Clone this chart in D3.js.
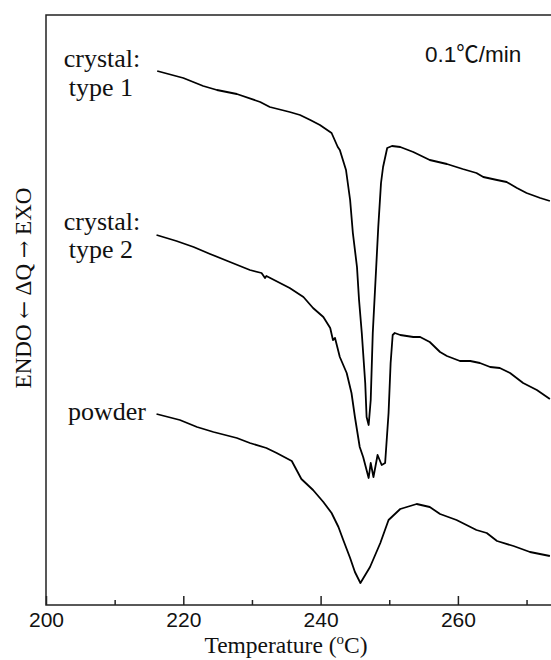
<!DOCTYPE html>
<html>
<head>
<meta charset="utf-8">
<script src="https://cdn.jsdelivr.net/npm/d3@7"></script>
<style>
  body { margin: 0; background: #fff; }
  svg { display: block; }
</style>
</head>
<body>
<div id="chart"></div>
<script>
// DSC traces, temperature (°C) vs heat flow (arbitrary units, curves offset)
const type1Temp = [216.2, 220.0, 222.9, 224.9, 227.8, 231.2, 232.6, 235.5, 237.0, 238.5, 239.9, 241.6, 242.5, 242.8, 243.7, 244.3, 244.7, 245.3, 245.6, 246.0, 246.5, 246.7, 247.0, 247.3, 247.6, 248.1, 248.4, 248.8, 249.1, 249.7, 250.4, 251.6, 253.5, 255.9, 258.4, 260.7, 262.7, 263.7, 265.7, 267.1, 268.6, 270.0, 272.0, 273.4];
const type1Flow = [53.6, 52.9, 52.1, 51.7, 51.3, 50.5, 50.0, 49.5, 49.2, 48.7, 48.2, 47.4, 46.0, 45.7, 43.7, 40.7, 37.4, 34.0, 30.7, 27.4, 22.4, 19.0, 18.2, 20.7, 27.4, 34.0, 38.0, 42.4, 44.0, 45.9, 46.1, 46.0, 45.5, 44.7, 44.3, 43.8, 43.4, 43.0, 42.7, 42.5, 41.9, 41.4, 40.9, 40.6];

const type2Temp = [216.1, 219.0, 221.5, 223.9, 226.8, 229.7, 231.4, 231.9, 232.1, 235.5, 237.5, 238.9, 240.4, 241.4, 241.8, 242.1, 242.8, 243.8, 244.5, 245.0, 245.7, 246.2, 247.0, 247.3, 247.7, 248.3, 248.9, 249.4, 249.9, 250.2, 250.5, 250.8, 251.6, 253.5, 254.5, 255.9, 257.4, 258.4, 260.3, 261.8, 263.2, 264.7, 266.1, 267.6, 269.5, 271.5, 273.4];
const type2Flow = [37.2, 36.6, 36.0, 35.3, 34.5, 33.7, 33.4, 32.9, 33.1, 31.9, 31.0, 29.9, 29.0, 27.9, 26.7, 26.9, 25.0, 23.4, 21.4, 19.0, 16.0, 15.0, 12.9, 14.4, 13.0, 15.2, 14.2, 14.4, 19.4, 24.4, 27.2, 27.4, 27.2, 27.0, 27.0, 26.5, 25.5, 25.1, 24.6, 24.6, 24.4, 24.0, 23.9, 23.4, 22.4, 21.7, 20.8];

const powderTemp = [216.1, 219.5, 222.0, 224.4, 227.8, 229.7, 232.1, 233.6, 235.8, 236.5, 237.2, 238.9, 240.4, 241.6, 242.6, 243.3, 244.3, 245.0, 245.8, 247.2, 248.7, 249.9, 251.6, 254.0, 255.9, 257.4, 259.8, 262.7, 264.2, 265.7, 268.1, 270.5, 273.4];
const powderFlow = [19.3, 18.7, 18.0, 17.5, 16.9, 16.4, 15.9, 15.4, 14.6, 13.7, 12.8, 11.7, 10.5, 9.4, 8.0, 6.7, 4.9, 3.5, 2.4, 4.0, 6.4, 8.7, 9.8, 10.3, 10.0, 9.3, 8.7, 7.7, 7.4, 6.6, 6.1, 5.5, 5.1];

const majorTicks = [200, 220, 240, 260];
const minorTicks = [210, 230, 250, 270];

const W = 551, H = 660;
const x = d3.scaleLinear().domain([200, 280]).range([46, 595.2]);
const y = d3.scaleLinear().domain([0.2, 59.2]).range([605, 15]);

const svg = d3.select("#chart").append("svg")
    .attr("width", W)
    .attr("height", H);

// frame (right side falls outside the picture, as in the original crop)
svg.append("rect")
    .attr("x", x(200)).attr("y", y(59.2))
    .attr("width", x(280) - x(200)).attr("height", y(0.2) - y(59.2))
    .attr("fill", "none")
    .attr("stroke", "#222")
    .attr("stroke-width", 1.5);

const gx = svg.append("g").attr("transform", "translate(0," + y(0.2) + ")");
gx.call(d3.axisBottom(x).tickValues(majorTicks).tickSizeInner(-9).tickSizeOuter(0))
    .call(g => g.select(".domain").remove())
    .call(g => g.selectAll("line").attr("stroke", "#222").attr("stroke-width", 1.5))
    .call(g => g.selectAll("text")
        .attr("font-family", "'Liberation Sans', Arial, sans-serif")
        .attr("font-size", 21)
        .attr("fill", "#111")
        .attr("y", 22)
        .attr("dy", 0));
gx.append("g")
    .call(d3.axisBottom(x).tickValues(minorTicks).tickSizeInner(-5).tickSizeOuter(0).tickFormat(""))
    .call(g => g.select(".domain").remove())
    .call(g => g.selectAll("line").attr("stroke", "#222").attr("stroke-width", 1.5));

const line = d3.line().x(d => x(d[0])).y(d => y(d[1]));
const series = [
    d3.zip(type1Temp, type1Flow),
    d3.zip(type2Temp, type2Flow),
    d3.zip(powderTemp, powderFlow)
];
svg.append("g")
    .selectAll("path")
    .data(series)
    .enter().append("path")
    .attr("d", line)
    .attr("fill", "none")
    .attr("stroke", "#000")
    .attr("stroke-width", 1.8)
    .attr("stroke-linejoin", "round");

const serif = "'Liberation Serif', 'Times New Roman', serif";

// curve labels
const labels = [
    {t: "crystal:", x: 102, y: 67},
    {t: "type 1", x: 101, y: 96},
    {t: "crystal:", x: 102, y: 230},
    {t: "type 2", x: 101, y: 258},
    {t: "powder", x: 107, y: 420}
];
svg.append("g")
    .selectAll("text")
    .data(labels)
    .enter().append("text")
    .attr("x", d => d.x)
    .attr("y", d => d.y)
    .attr("text-anchor", "middle")
    .attr("font-family", serif)
    .attr("font-size", 26)
    .attr("fill", "#111")
    .text(d => d.t);

svg.append("text")
    .attr("x", 425).attr("y", 62)
    .attr("font-family", "'Liberation Sans', Arial, 'Noto Sans CJK SC', sans-serif")
    .attr("font-size", 22.5)
    .attr("fill", "#111")
    .text("0.1℃/min");

// axis titles
const xt = svg.append("text")
    .attr("x", 286).attr("y", 653)
    .attr("text-anchor", "middle")
    .attr("font-family", serif)
    .attr("font-size", 23.5)
    .attr("fill", "#111");
xt.append("tspan").text("Temperature (");
xt.append("tspan").attr("font-size", 15).attr("dy", -9).text("o");
xt.append("tspan").attr("dy", 9).text("C)");

const yt = svg.append("text")
    .attr("transform", "translate(31,288) rotate(-90)")
    .attr("text-anchor", "middle")
    .attr("font-family", serif)
    .attr("font-size", 23)
    .attr("fill", "#111");
yt.append("tspan").text("ENDO ");
yt.append("tspan").attr("font-family", "'DejaVu Serif', serif").attr("font-size", 21).text("←");
yt.append("tspan").text(" ΔQ ");
yt.append("tspan").attr("font-family", "'DejaVu Serif', serif").attr("font-size", 21).text("→");
yt.append("tspan").text(" EXO");
</script>
</body>
</html>
